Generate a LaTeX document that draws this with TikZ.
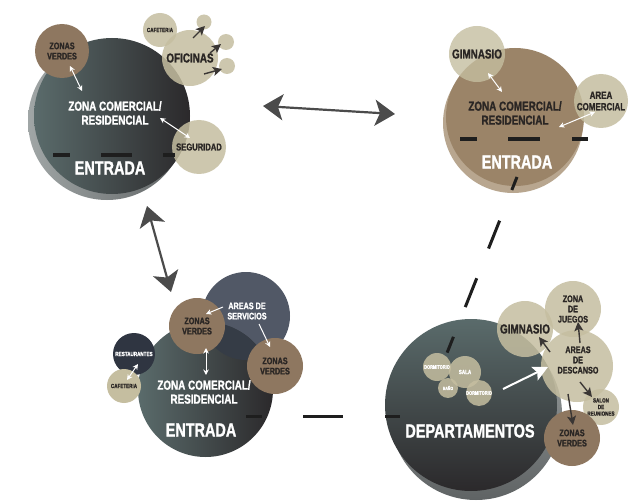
\documentclass[tikz,border=0pt]{standalone}
\usepackage{fontspec}
\setmainfont{Liberation Sans}[FakeStretch=0.76, BoldFeatures={FakeBold=1.3}]
\usetikzlibrary{arrows.meta}
\definecolor{brn}{HTML}{8E7760}
\definecolor{bge}{HTML}{C5BEA0}
\definecolor{tealg}{HTML}{5A6B6B}
\definecolor{drk}{HTML}{2B292B}
\definecolor{shdA}{HTML}{A0A6A6}
\definecolor{shdB}{HTML}{5F6364}
\definecolor{brnmain}{HTML}{9B8468}
\definecolor{brnshd}{HTML}{B8A68F}
\definecolor{slate}{HTML}{515866}
\definecolor{ovl}{HTML}{353C46}
\definecolor{navy}{HTML}{2F3541}
\definecolor{txt}{HTML}{2A2624}
\definecolor{arr}{HTML}{4B4B4B}
\definecolor{arrd}{HTML}{3A3634}
\definecolor{dsh}{HTML}{1E1E1E}
\tikzset{
  bub/.style={circle, inner sep=0pt, minimum size=#1},
  beige/.style={fill=bge, fill opacity=0.85, text opacity=1},
  fT/.style={font=\bfseries\fontsize{6}{6.6}\selectfont},
  fX/.style={font=\bfseries\fontsize{5.2}{5.6}\selectfont},
  fS/.style={font=\bfseries\fontsize{9.5}{10.2}\selectfont},
  fM/.style={font=\bfseries\fontsize{13}{14}\selectfont},
  fL/.style={font=\bfseries\fontsize{19}{21}\selectfont},
  dk/.style={text=txt, align=center},
  wt/.style={text=white, align=center},
  wsa/.style={draw=white, line width=1pt, -{Stealth[length=5.5pt,width=5.5pt]}},
  wda/.style={draw=white, line width=1pt, {Stealth[length=5.5pt,width=5.5pt]}-{Stealth[length=5.5pt,width=5.5pt]}},
  dka/.style={draw=arrd, line width=1.4pt, -{Stealth[length=9pt,width=9pt,inset=2pt]}},
  bigarr/.style={draw=arr, line width=2.2pt, {Stealth[length=20pt,width=26pt,inset=5pt]}-{Stealth[length=20pt,width=26pt,inset=5pt]}},
  dashln/.style={draw=dsh, line width=4.5pt},
}
\begin{document}
\begin{tikzpicture}[x=1pt,y=-1pt]
\useasboundingbox (0,0) rectangle (641,503);
\fill[white] (0,0) rectangle (641,503);

% ===================== TOP LEFT =====================
\node[bub=158, left color=shdA, right color=shdB] (tlS) at (107,121) {};
\node[bub=156, left color=tealg, right color=drk] (tl) at (112,116) {};
\node[bub=54, fill=brn, dk, fS] (tlZV) at (62,51) {ZONAS\\VERDES};
\node[bub=34, beige, dk, fT] (tlCaf) at (160,30) {CAFETERIA};
\node[bub=56, beige, dk, fM] (tlOf) at (190,58) {OFICINAS};
\node[bub=15, beige] (tls1) at (204,22) {};
\node[bub=16, beige] (tls2) at (226,42) {};
\node[bub=16, beige] (tls3) at (227,66) {};
\node[bub=54, beige, dk, font=\bfseries\fontsize{10}{11}\selectfont] (tlSeg) at (199,147) {SEGURIDAD};
\node[wt, fM] (tlTx) at (115,113) {ZONA COMERCIAL/\\RESIDENCIAL};
\node[wt, fL] (tlEn) at (110,168) {ENTRADA};
\coordinate (o1a) at (193,38); \coordinate (o1b) at (205,26);
\coordinate (o2a) at (210,53); \coordinate (o2b) at (221,44);
\coordinate (o3a) at (204,74); \coordinate (o3b) at (222,69);
\draw[dka] (o1a) -- (o1b);
\draw[dka] (o2a) -- (o2b);
\draw[dka] (o3a) -- (o3b);
\coordinate (t1a) at (70,66); \coordinate (t1b) at (82,91);
\coordinate (t2a) at (160,118); \coordinate (t2b) at (190,138);
\draw[wda] (t1a) -- (t1b);
\draw[wda] (t2a) -- (t2b);
\coordinate (d1a) at (53,155); \coordinate (d1b) at (70,155);
\coordinate (d2a) at (101,155); \coordinate (d2b) at (132,155);
\coordinate (d3a) at (163,155); \coordinate (d3b) at (175,155);
\draw[dashln] (d1a) -- (d1b);
\draw[dashln] (d2a) -- (d2b);
\draw[dashln] (d3a) -- (d3b);

% ===================== TOP RIGHT =====================
\node[bub=140, fill=brnshd] (trS) at (513,123) {};
\node[bub=138, fill=brnmain] (tr) at (515,117) {};
\node[bub=56, fill=bge, fill opacity=0.8, text opacity=1, dk, fM] (trGim) at (477,54) {GIMNASIO};
\node[bub=54, beige, dk, font=\bfseries\fontsize{10.5}{11.5}\selectfont] (trAC) at (601,101) {AREA\\COMERCIAL};
\node[dk, fM] (trTx) at (515,113) {ZONA COMERCIAL/\\RESIDENCIAL};
\node[wt, fL] (trEn) at (517,162) {ENTRADA};
\coordinate (r1a) at (488,73); \coordinate (r1b) at (502,92);
\coordinate (r2a) at (559,127); \coordinate (r2b) at (595,112);
\draw[wda] (r1a) -- (r1b);
\draw[wda] (r2a) -- (r2b);
\coordinate (e1a) at (460,139); \coordinate (e1b) at (477,139);
\coordinate (e2a) at (508,139); \coordinate (e2b) at (540,139);
\coordinate (e3a) at (572,139); \coordinate (e3b) at (588,139);
\draw[dashln] (e1a) -- (e1b);
\draw[dashln] (e2a) -- (e2b);
\draw[dashln] (e3a) -- (e3b);

% ===================== BOTTOM LEFT =====================
\node[bub=88, fill=slate] (blSv) at (246,316) {};
\node[bub=135, left color=tealg, right color=drk] (bl) at (205.5,389.5) {};
\begin{scope}
  \clip (bl.center) circle[radius=67.5pt];
  \fill[ovl] (blSv.center) circle[radius=44pt];
\end{scope}
\node[bub=42, fill=navy, wt, fT] (blRes) at (134,354) {RESTAURANTES};
\node[bub=34, fill=bge, dk, fT] (blCaf) at (124,386) {CAFETERIA};
\node[bub=56, fill=brn, dk, fS] (blZV1) at (197,326) {ZONAS\\VERDES};
\node[bub=56, fill=brn, dk, fS] (blZV2) at (275,366) {ZONAS\\VERDES};
\node[wt, fS] (blSvT) at (247,311) {AREAS DE\\SERVICIOS};
\node[wt, fM] (blTx) at (204,392) {ZONA COMERCIAL/\\RESIDENCIAL};
\node[wt, fL] (blEn) at (201,430) {ENTRADA};
\coordinate (b1a) at (223,307); \coordinate (b1b) at (206,314);
\coordinate (b2a) at (259,324); \coordinate (b2b) at (270,347);
\coordinate (b3a) at (206,348); \coordinate (b3b) at (206,375);
\coordinate (b4a) at (127,380); \coordinate (b4b) at (138,364);
\draw[wsa] (b1a) -- (b1b);
\draw[wsa] (b2a) -- (b2b);
\draw[wda] (b3a) -- (b3b);
\draw[wda] (b4a) -- (b4b);

% ===================== BOTTOM RIGHT =====================
\node[bub=172, top color=shdA, bottom color=shdB] (brS) at (476,414) {};
\node[bub=172, top color=tealg, bottom color=drk] (br) at (471,405) {};
\node[bub=28, beige, wt, fX] (brD1) at (437,367) {DORMITORIO};
\node[bub=32, beige, wt, fT] (brSala) at (465,372) {SALA};
\node[bub=20, beige, wt, font=\bfseries\fontsize{4.5}{5}\selectfont] (brBa) at (448,388) {BAÑO};
\node[bub=26, beige, wt, fX] (brD2) at (479,393) {DORMITORIO};
\node[bub=56, beige, dk, fM] (brGim) at (525,329) {GIMNASIO};
\node[bub=56, beige, dk, fS] (brJu) at (573,309) {ZONA\\DE\\JUEGOS};
\node[bub=72, beige, dk, fS] (brDe) at (577,366) {};
\node[dk, fS] (brDeT) at (578,360) {AREAS\\DE\\DESCANSO};
\node[bub=36, beige, dk, fT] (brSa) at (601,407) {SALON\\DE\\REUNIONES};
\node[bub=56, fill=brn, dk, fS] (brZV) at (572,438) {ZONAS\\VERDES};
\node[wt, fL] (brTx) at (470,431) {DEPARTAMENTOS};
\coordinate (w1a) at (503,389); \coordinate (w1b) at (548,367);
\draw[draw=white, line width=2pt, -{Stealth[length=15pt,width=15pt,inset=3pt]}] (w1a) -- (w1b);
\coordinate (k1a) at (580,343); \coordinate (k1b) at (578,322);
\coordinate (k2a) at (550,352); \coordinate (k2b) at (539,337);
\coordinate (k3a) at (580,382); \coordinate (k3b) at (592,397);
\coordinate (k4a) at (568,394); \coordinate (k4b) at (573,425);
\draw[dka] (k1a) -- (k1b);
\draw[dka] (k2a) -- (k2b);
\draw[dka] (k3a) -- (k3b);
\draw[dka] (k4a) -- (k4b);

% ===================== CONNECTIONS =====================
\coordinate (A1) at (263,106); \coordinate (A2) at (395,114);
\draw[bigarr] (A1) -- (A2);
\coordinate (V1) at (147,206); \coordinate (V2) at (171,292);
\draw[bigarr] (V1) -- (V2);
\coordinate (L1) at (517,177); \coordinate (L2) at (447,353);
\draw[draw=dsh, line width=3pt, dash pattern=on 14pt off 33pt on 30pt off 32pt on 31pt off 32pt on 17pt] (L1) -- (L2);
\coordinate (H1) at (246,416); \coordinate (H2) at (400,416);
\draw[draw=dsh, line width=3pt, dash pattern=on 16pt off 41pt on 40pt off 42pt on 15pt] (H1) -- (H2);
\end{tikzpicture}
\end{document}
